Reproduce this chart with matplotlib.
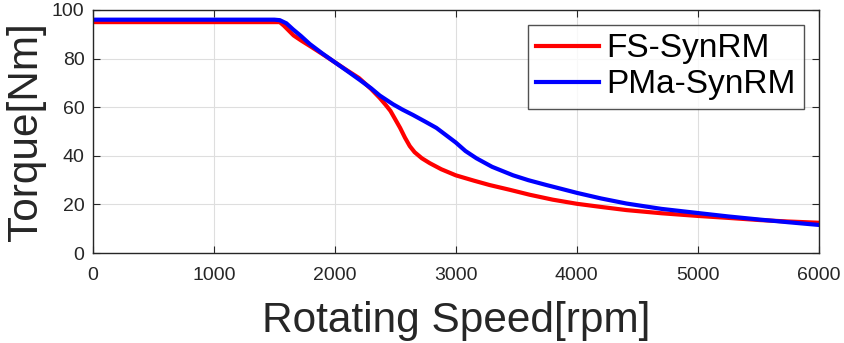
import matplotlib
matplotlib.use('Agg')
import matplotlib.pyplot as plt

# Torque vs speed curves
fs_speed = [0, 500, 1000, 1500, 1545, 1580, 1620, 1660, 1720, 1800, 1900, 2000,
            2100, 2200, 2300, 2372, 2420, 2460, 2500, 2540, 2580, 2620, 2660,
            2720, 2785, 2880, 3000, 3150, 3280, 3450, 3612, 3800, 4000, 4200,
            4411, 4700, 5000, 5250, 5512, 5750, 6000]
fs_torque = [95, 95, 95, 95, 95, 93.5, 91.5, 89.5, 87.5, 85, 81.8, 78.5,
             75.2, 72, 67.5, 63.8, 61, 58.5, 55, 51.5, 47.5, 44, 41.5,
             39, 37, 34.5, 32, 29.8, 28, 26, 24, 22, 20.3, 19,
             17.7, 16.4, 15.3, 14.5, 13.6, 13, 12.5]

pma_speed = [0, 1000, 1500, 1545, 1600, 1655, 1720, 1793, 1900, 2000, 2100,
             2207, 2300, 2372, 2482, 2560, 2647, 2750, 2840, 2920, 3000, 3080,
             3171, 3300, 3474, 3600, 3750, 3860, 4000, 4200, 4411, 4700, 5000,
             5250, 5512, 5750, 6000]
pma_torque = [96, 96, 96, 95.8, 94.5, 92, 89.3, 86, 82, 78.5, 75,
              71.2, 67.8, 64.8, 61.2, 59, 56.8, 54, 51.5, 48.5, 45.5, 42,
              39, 35.5, 32, 30, 28, 26.6, 24.8, 22.5, 20.4, 18.2, 16.5,
              15.1, 13.8, 12.7, 11.6]

x_ticks = [0, 1000, 2000, 3000, 4000, 5000, 6000]
y_ticks = [0, 20, 40, 60, 80, 100]

plt.rcParams['font.family'] = ['Liberation Sans', 'DejaVu Sans']

fig = plt.figure(figsize=(8.44, 3.43), dpi=100)
ax = fig.add_axes([0.110, 0.262, 0.860, 0.709])

ax.plot(fs_speed, fs_torque, color='#ff0000', lw=3, label='FS-SynRM')
ax.plot(pma_speed, pma_torque, color='#0000ff', lw=3, label='PMa-SynRM')

ax.set_xlim(0, 6000)
ax.set_ylim(0, 100)
ax.set_xticks(x_ticks)
ax.set_yticks(y_ticks)
ax.grid(True, color='#dedede', lw=0.8)
ax.tick_params(direction='in', top=True, right=True, length=5,
               labelsize=14, colors='#262626')
ax.tick_params(axis='x', pad=10)
ax.tick_params(axis='y', pad=6)
for s in ax.spines.values():
    s.set_color('#262626')
    s.set_linewidth(1.0)

ax.set_xlabel('Rotating Speed[rpm]', fontsize=30.5, color='#262626', labelpad=12)
ax.set_ylabel('Torque[Nm]', fontsize=30.5, color='#262626', labelpad=4)

leg = ax.legend(loc='upper right', fontsize=24, frameon=True, fancybox=False,
                edgecolor='#262626', handlelength=1.9, handletextpad=0.2,
                borderpad=0.25, labelspacing=0.15, borderaxespad=0.45)
leg.get_frame().set_linewidth(1.0)

fig.savefig('out.png', dpi=100)
